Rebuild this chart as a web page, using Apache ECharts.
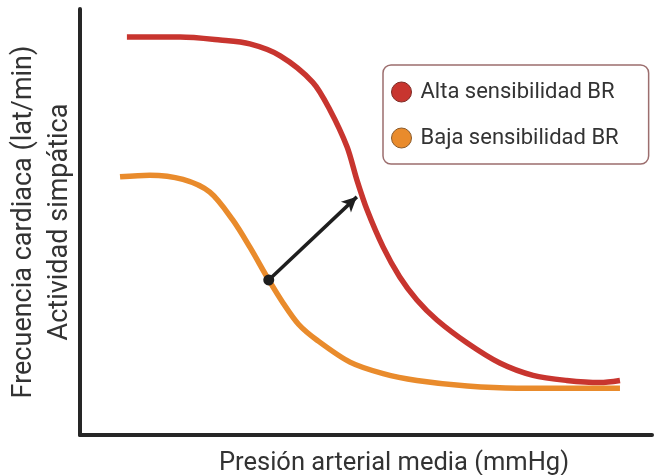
<!DOCTYPE html>
<html>
<head>
<meta charset="utf-8">
<script src="https://cdn.jsdelivr.net/npm/echarts@6/dist/echarts.min.js"></script>
<style>html,body{margin:0;padding:0;background:#fff}#c{width:655px;height:475px}</style>
</head>
<body>
<div id="c"></div>
<script>
// Values (arbitrary units, 0-100 on both axes)
var seriesNames = ['Alta sensibilidad BR', 'Baja sensibilidad BR'];
var altaX = [8.2, 17.5, 24.5, 29.7, 35.0, 40.7, 43.7, 46.7, 48.4, 50.2, 53.0, 55.9, 58.9, 62.4, 67.7, 73.4, 79.2, 85.1, 90.9, 94.4];
var altaY = [93.4, 93.4, 92.7, 91.8, 89.0, 82.8, 76.3, 67.6, 59.9, 52.8, 44.1, 37.1, 31.7, 27.0, 21.6, 16.9, 14.0, 12.8, 12.3, 12.8];
var bajaX = [7.0, 12.2, 18.0, 22.7, 26.7, 29.7, 33.0, 35.5, 38.2, 41.4, 47.2, 53.0, 58.9, 67.7, 76.4, 94.4];
var bajaY = [60.6, 61.0, 60.0, 57.0, 50.5, 44.1, 36.4, 31.0, 26.0, 22.3, 17.1, 14.4, 12.8, 11.5, 11.0, 11.0];
var arrowFrom = [33.0, 36.4];
var arrowTo = [48.4, 55.9];
var xName = 'Presión arterial media (mmHg)';
var yName = 'Frecuencia cardiaca (lat/min)\nActividad simpática';

function pairs(xs, ys) { return xs.map(function (x, i) { return [x, ys[i]]; }); }

var chart = echarts.init(document.getElementById('c'));
var axisLine = { show: true, onZero: false, lineStyle: { color: '#262626', width: 4 } };
chart.setOption({
  animation: false,
  backgroundColor: '#fff',
  textStyle: { fontFamily: 'Roboto' },
  grid: { left: 80, right: 3, top: 9, bottom: 40, containLabel: false, outerBoundsMode: 'none' },
  legend: {
    orient: 'vertical',
    left: 383, top: 65,
    padding: [16, 30, 15, 8],
    itemGap: 24,
    itemWidth: 20, itemHeight: 21,
    icon: 'circle',
    borderColor: '#9c6e6e', borderWidth: 1.5, borderRadius: 8,
    textStyle: { fontSize: 22, color: '#333', fontFamily: 'Roboto', padding: [0, 0, 0, 4] },
    data: [
      { name: seriesNames[0], itemStyle: { color: '#c8352f', borderColor: '#7e2a24', borderWidth: 1 } },
      { name: seriesNames[1], itemStyle: { color: '#e98b2c', borderColor: '#8a5a2a', borderWidth: 1 } }
    ]
  },
  xAxis: {
    type: 'value', min: 0, max: 100,
    axisLine: axisLine, axisTick: { show: false }, axisLabel: { show: false }, splitLine: { show: false },
    name: xName, nameLocation: 'middle', nameGap: 16,
    nameTextStyle: { fontSize: 25.5, color: '#333', fontFamily: 'Roboto', padding: [0, 0, 0, 56] }
  },
  yAxis: {
    type: 'value', min: 0, max: 100,
    axisLine: axisLine, axisTick: { show: false }, axisLabel: { show: false }, splitLine: { show: false },
    name: yName, nameLocation: 'middle', nameGap: 2,
    nameTextStyle: { fontSize: 27, lineHeight: 36, color: '#333', fontFamily: 'Roboto', align: 'center' }
  },
  series: [
    {
      name: seriesNames[0], type: 'line', data: pairs(altaX, altaY),
      smooth: 0.3, showSymbol: false,
      lineStyle: { color: '#c8352f', width: 5.5 }, itemStyle: { color: '#c8352f' }, z: 2
    },
    {
      name: seriesNames[1], type: 'line', data: pairs(bajaX, bajaY),
      smooth: 0.3, showSymbol: false,
      lineStyle: { color: '#e98b2c', width: 5.5 }, itemStyle: { color: '#e98b2c' }, z: 2,
      markLine: {
        silent: true,
        symbol: ['circle', 'arrow'],
        symbolSize: [11, 15],
        label: { show: false },
        lineStyle: { color: '#1e1e1e', width: 3.5, type: 'solid' },
        data: [[{ coord: arrowFrom }, { coord: arrowTo }]],
        z: 5
      }
    }
  ]
});
</script>
</body>
</html>
